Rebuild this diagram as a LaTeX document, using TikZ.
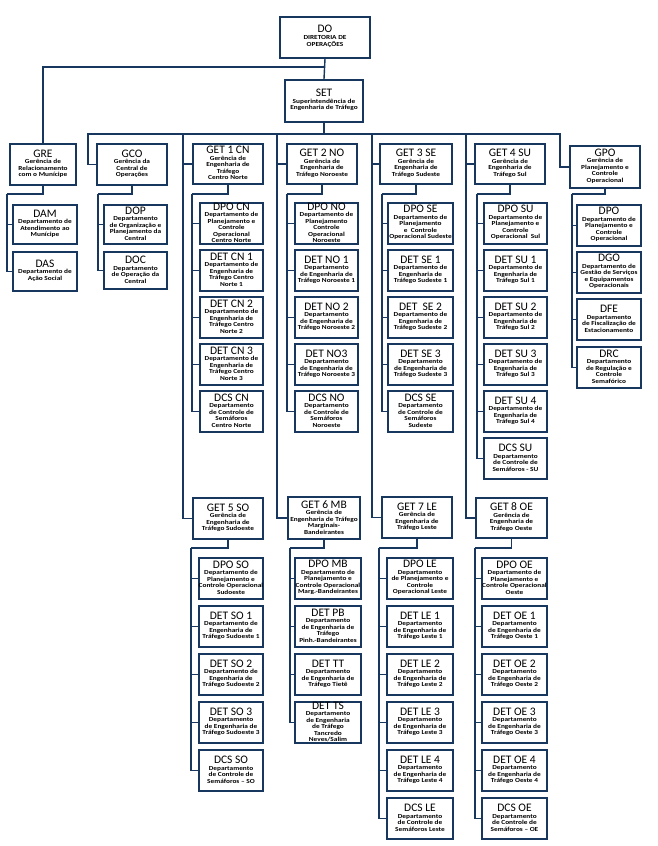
\documentclass[tikz,border=0pt]{standalone}
\usepackage{fontspec}
\setmainfont{Carlito}
\newfontfamily\descfam[FakeStretch=1.18]{Carlito}
\newcommand\descfont{\descfam\bfseries\fontsize{6.2}{6.5}\selectfont}
\newcommand\ttlfont{\normalfont\mdseries\fontsize{11.5}{11.5}\selectfont}
\definecolor{navy}{RGB}{23,55,94}
\tikzset{
  obx/.style={draw=navy, line width=1.6pt, fill=white, inner sep=0pt},
  otx/.style={align=center, inner sep=0pt, font=\descfont, text=black},
  conn/.style={draw=navy, line width=1.4pt},
}
% name, cx, top, width, height, title, description
\newcommand\obox[7]{%
  \node[obx, minimum width=#4pt, minimum height=#5pt, anchor=north] (#1) at (#2,#3) {};
  \node[otx, yshift=0.6pt] (#1-t) at (#1.center) {{\ttlfont #6}\\[0pt]#7};
}
\begin{document}
\begin{tikzpicture}[x=1pt,y=-1pt]
\useasboundingbox (0,0) rectangle (657,846);
\fill[white] (0,0) rectangle (657,846);

% top
\obox{do}{325}{16}{90}{41}{DO}{DIRETORIA DE\\[1pt]OPERAÇÕES}
\obox{set}{324}{79}{78}{42}{SET}{Superintendência de\\Engenharia de Tráfego}

% GRE column
\obox{gre}{43}{143}{66}{41}{GRE}{Gerência de\\Relacionamento\\com o Munícipe}
\obox{dam}{45}{204}{64}{39}{DAM}{Departamento de\\Atendimento ao\\Munícipe}
\obox{das}{45}{251}{64}{39}{DAS}{Departamento de\\Ação Social}

% GCO column
\obox{gco}{132}{143}{70}{41}{GCO}{Gerência da\\Central de\\Operações}
\obox{dop}{135.5}{204}{63}{39}{DOP}{Departamento\\de Organização e\\Planejamento da\\Central}
\obox{doc}{135.5}{251}{63}{37}{DOC}{Departamento\\de Operação da\\Central}

% GET 1 CN
\obox{get1}{228}{143}{70}{40}{GET 1 CN}{Gerência de\\Engenharia de\\Tráfego\\Centro Norte}
\obox{dpocn}{231.5}{202}{63}{41}{DPO CN}{Departamento de\\Planejamento e\\Controle\\Operacional\\Centro Norte}
\obox{detcn1}{231.5}{249}{63}{41}{DET CN 1}{Departamento de\\Engenharia de\\Tráfego Centro\\Norte 1}
\obox{detcn2}{231.5}{296}{63}{41}{DET CN 2}{Departamento de\\Engenharia de\\Tráfego Centro\\Norte 2}
\obox{detcn3}{231.5}{343}{63}{41}{DET CN 3}{Departamento de\\Engenharia de\\Tráfego Centro\\Norte 3}
\obox{dcscn}{231.5}{390}{63}{41}{DCS CN}{Departamento\\de Controle de\\Semáforos\\Centro Norte}

% GET 2 NO
\obox{get2}{322}{143}{70}{40}{GET 2 NO}{Gerência de\\Engenharia de\\Tráfego Noroeste}
\obox{dpono}{326.5}{202}{63}{41}{DPO NO}{Departamento de\\Planejamento\\Controle\\Operacional\\Noroeste}
\obox{detno1}{326.5}{249}{63}{41}{DET NO 1}{Departamento\\de Engenharia de\\Tráfego Noroeste 1}
\obox{detno2}{326.5}{296}{63}{41}{DET NO 2}{Departamento\\de Engenharia de\\Tráfego Noroeste 2}
\obox{detno3}{326.5}{343}{63}{41}{DET NO3}{Departamento\\de Engenharia de\\Tráfego Noroeste 3}
\obox{dcsno}{326.5}{390}{63}{41}{DCS NO}{Departamento\\de Controle de\\Semáforos\\Noroeste}

% GET 3 SE
\obox{get3}{416}{143}{72}{40}{GET 3 SE}{Gerência de\\Engenharia de\\Tráfego Sudeste}
\obox{dpose}{420.5}{202}{65}{41}{DPO SE}{Departamento de\\Planejamento\\e\ \ Controle\\Operacional Sudeste}
\obox{detse1}{420.5}{249}{65}{41}{DET SE 1}{Departamento de\\Engenharia de\\Tráfego Sudeste 1}
\obox{detse2}{420.5}{296}{65}{41}{DET\ \ SE 2}{Departamento de\\Engenharia de\\Tráfego Sudeste 2}
\obox{detse3}{420.5}{343}{65}{41}{DET SE 3}{Departamento\\de Engenharia de\\Tráfego Sudeste 3}
\obox{dcsse}{420.5}{390}{65}{41}{DCS SE}{Departamento\\de Controle de\\Semáforos\\Sudeste}

% GET 4 SU
\obox{get4}{510}{143}{70}{40}{GET 4 SU}{Gerência de\\Engenharia de\\Tráfego Sul}
\obox{dposu}{515.5}{202}{63}{41}{DPO SU}{Departamento de\\Planejamento e\\Controle\\Operacional\ \ Sul}
\obox{detsu1}{515.5}{249}{63}{41}{DET SU 1}{Departamento de\\Engenharia de\\Tráfego Sul 1}
\obox{detsu2}{515.5}{296}{63}{41}{DET SU 2}{Departamento de\\Engenharia de\\Tráfego Sul 2}
\obox{detsu3}{515.5}{343}{63}{41}{DET SU 3}{Departamento de\\Engenharia de\\Tráfego Sul 3}
\obox{detsu4}{515.5}{390}{63}{41}{DET SU 4}{Departamento de\\Engenharia de\\Tráfego Sul 4}
\obox{dcssu}{515.5}{437}{63}{41}{DCS SU}{Departamento\\de Controle de\\Semáforos - SU}

% GPO
\obox{gpo}{605}{145}{70}{42}{GPO}{Gerência de\\Planejamento e\\Controle\\Operacional}
\obox{dpo}{609}{204}{64}{41}{DPO}{Departamento de\\Planejamento e\\Controle\\Operacional}
\obox{dgo}{609}{251}{64}{41}{DGO}{Departamento de\\Gestão de Serviços\\e Equipamentos\\Operacionais}
\obox{dfe}{609}{298}{64}{41}{DFE}{Departamento\\de Fiscalização de\\Estacionamento}
\obox{drc}{609}{346}{64}{41}{DRC}{Departamento\\de Regulação e\\Controle\\Semafórico}

% GET 5 SO
\obox{get5}{228}{497}{70}{41}{GET 5 SO}{Gerência de\\Engenharia de\\Tráfego Sudoeste}
\obox{dposo}{231}{557}{64}{41}{DPO SO}{Departamento de\\Planejamento e\\Controle Operacional\\Sudoeste}
\obox{detso1}{231}{605}{64}{41}{DET SO 1}{Departamento de\\Engenharia de\\Tráfego Sudoeste 1}
\obox{detso2}{231}{653}{64}{41}{DET SO 2}{Departamento de\\Engenharia de\\Tráfego Sudoeste 2}
\obox{detso3}{231}{701}{64}{41}{DET SO 3}{Departamento\\de Engenharia de\\Tráfego Sudoeste 3}
\obox{dcsso}{231}{749}{64}{41}{DCS SO}{Departamento\\de Controle de\\Semáforos – SO}

% GET 6 MB
\obox{get6}{324}{496}{72}{42}{GET 6 MB}{Gerência de\\Engenharia de Tráfego\\Marginais-\\Bandeirantes}
\obox{dpomb}{328}{557}{66}{41}{DPO MB}{Departamento de\\Planejamento e\\Controle Operacional\\Marg.-Bandeirantes}
\obox{detpb}{328}{605}{66}{41}{DET PB}{Departamento\\de Engenharia de\\Tráfego\\Pinh.-Bandeirantes}
\obox{dettt}{328}{653}{66}{41}{DET TT}{Departamento\\de Engenharia de\\Tráfego Tietê}
\obox{detts}{328}{701}{66}{41}{DET TS}{Departamento\\de Engenharia\\de Tráfego\\Tancredo\\Neves/Salim}

% GET 7 LE
\obox{get7}{417}{496}{70}{41}{GET 7 LE}{Gerência de\\Engenharia de\\Tráfego Leste}
\obox{dpole}{420}{557}{66}{41}{DPO LE}{Departamento\\de Planejamento e\\Controle\\Operacional Leste}
\obox{detle1}{420}{605}{66}{41}{DET LE 1}{Departamento\\de Engenharia de\\Tráfego Leste 1}
\obox{detle2}{420}{653}{66}{41}{DET LE 2}{Departamento\\de Engenharia de\\Tráfego Leste 2}
\obox{detle3}{420}{701}{66}{41}{DET LE 3}{Departamento\\de Engenharia de\\Tráfego Leste 3}
\obox{detle4}{420}{749}{66}{41}{DET LE 4}{Departamento\\de Engenharia de\\Tráfego Leste 4}
\obox{dcsle}{420}{797}{66}{41}{DCS LE}{Departamento\\de Controle de\\Semáforos Leste}

% GET 8 OE
\obox{get8}{511.5}{497}{71}{40}{GET 8 OE}{Gerência de\\Engenharia de\\Tráfego Oeste}
\obox{dpooe}{514.5}{557}{65}{41}{DPO OE}{Departamento de\\Planejamento e\\Controle Operacional\\Oeste}
\obox{detoe1}{514.5}{605}{65}{41}{DET OE 1}{Departamento\\de Engenharia de\\Tráfego Oeste 1}
\obox{detoe2}{514.5}{653}{65}{41}{DET OE 2}{Departamento\\de Engenharia de\\Tráfego Oeste 2}
\obox{detoe3}{514.5}{701}{65}{41}{DET OE 3}{Departamento\\de Engenharia de\\Tráfego Oeste 3}
\obox{detoe4}{514.5}{749}{65}{41}{DET OE 4}{Departamento\\de Engenharia de\\Tráfego Oeste 4}
\obox{dcsoe}{514.5}{797}{65}{41}{DCS OE}{Departamento\\de Controle de\\Semáforos – OE}

% ---------- connectors ----------
\coordinate (hdo) at (325,67);
\coordinate (busL) at (88,134);
\coordinate (busR) at (560,134);
\coordinate (c1) at (183,134);
\coordinate (c2) at (277,134);
\coordinate (c3) at (372,134);
\coordinate (c4) at (466,134);
\coordinate (sgre) at (7,194);
\coordinate (sgco) at (98,194);
\coordinate (s1) at (192,194);
\coordinate (s2) at (287,194);
\coordinate (s3) at (382,194);
\coordinate (s4) at (477,194);
\coordinate (s5) at (572,194);
\coordinate (s6) at (191,548);
\coordinate (s7) at (290,548);
\coordinate (s8) at (379,548);
\coordinate (s9) at (475,548);

\draw[conn] (do.south) -- (set.north);
\draw[conn] (hdo) -| (gre.north);
\draw[conn] (set.south) -- (set.south |- busL);
\draw[conn] (gco.west) -| (busL) -- (busR) |- (gpo.west);
\draw[conn] (c1) -- (c1 |- get5.west) -- (get5.west);
\draw[conn] (c1 |- get1.west) -- (get1.west);
\draw[conn] (c2) -- (c2 |- get6.west) -- (get6.west);
\draw[conn] (c2 |- get2.west) -- (get2.west);
\draw[conn] (c3) -- (c3 |- get7.west) -- (get7.west);
\draw[conn] (c3 |- get3.west) -- (get3.west);
\draw[conn] (c4) -- (c4 |- get8.west) -- (get8.west);
\draw[conn] (c4 |- get4.west) -- (get4.west);

\newcommand\kids[3]{% manager, spine coord, children
  \draw[conn] (#1.south) |- (#2);
  \foreach \k in {#3} {
    \draw[conn] (#2) -- (#2 |- \k.west) -- (\k.west);
  }
}
\kids{gre}{sgre}{dam,das}
\kids{gco}{sgco}{dop,doc}
\kids{get1}{s1}{dpocn,detcn1,detcn2,detcn3,dcscn}
\kids{get2}{s2}{dpono,detno1,detno2,detno3,dcsno}
\kids{get3}{s3}{dpose,detse1,detse2,detse3,dcsse}
\kids{get4}{s4}{dposu,detsu1,detsu2,detsu3,detsu4,dcssu}
\kids{gpo}{s5}{dpo,dgo,dfe,drc}
\kids{get5}{s6}{dposo,detso1,detso2,detso3,dcsso}
\kids{get6}{s7}{dpomb,detpb,dettt,detts}
\kids{get7}{s8}{dpole,detle1,detle2,detle3,detle4,dcsle}
\kids{get8}{s9}{dpooe,detoe1,detoe2,detoe3,detoe4,dcsoe}
\end{tikzpicture}
\end{document}
